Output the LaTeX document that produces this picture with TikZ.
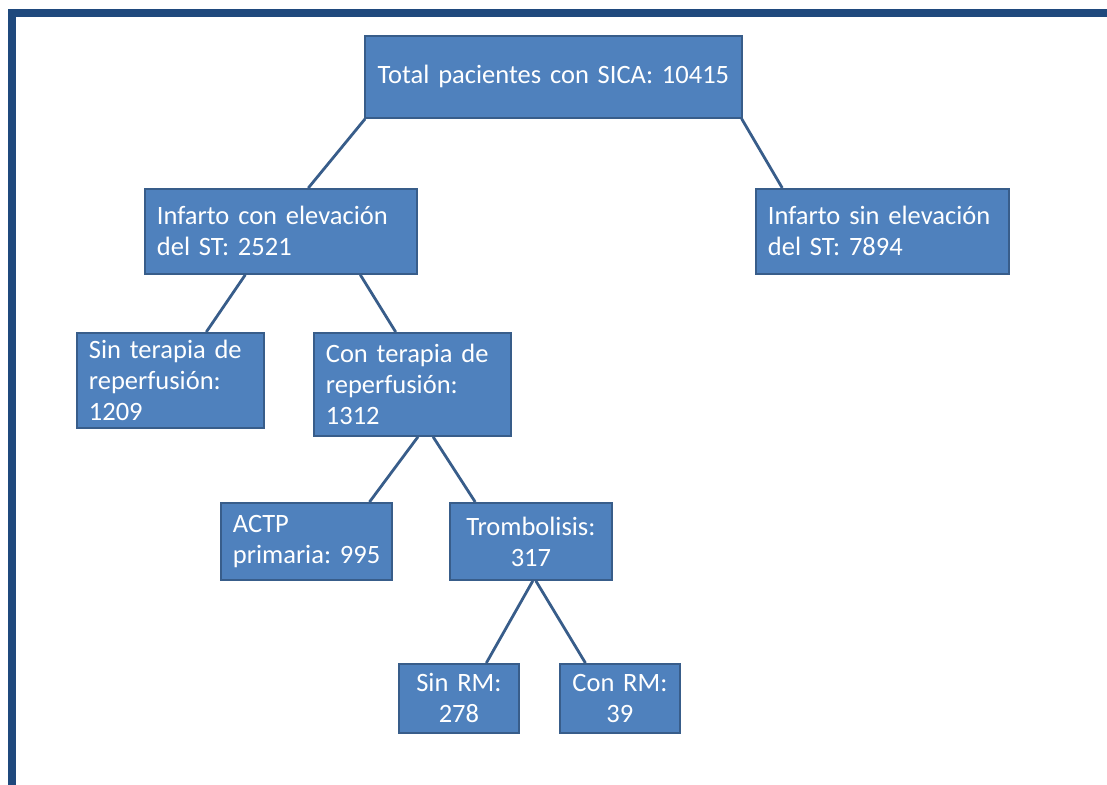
\documentclass[tikz,border=0pt]{standalone}
\usepackage{fontspec}
\setmainfont{Carlito}[WordSpace=0.7]
\usetikzlibrary{calc}
\definecolor{boxfill}{RGB}{79,129,189}
\definecolor{boxline}{RGB}{56,93,138}
\definecolor{framecol}{RGB}{31,73,125}
\tikzset{
  box/.style={draw=boxline, fill=boxfill, line width=1.8pt, text=white,
    anchor=north west, inner xsep=12pt, inner ysep=0pt,
    font=\fontsize{26.5}{31}\selectfont},
  link/.style={draw=boxline, line width=2.8pt},
  frame/.style={draw=framecol, line width=8pt}
}

\begin{document}
\begin{tikzpicture}[x=1pt,y=-1pt]
        \newcommand{\linkbox}[4]{\draw[link] ($(#1.south west)!#2!(#1.south east)$) -- ($(#3.north west)!#4!(#3.north east)$);}
        \useasboundingbox (0,0) rectangle (1107,784);
        \draw[frame] (12,800) -- (12,13.5) -- (1120,13.5);
        % the boxes
        \node[box, align=center, text width=353pt, minimum width=377pt, minimum height=82pt] (total) at (364,35) {Total pacientes con SICA: 10415};
        \node[box, align=left, text width=248pt, minimum width=272pt, minimum height=85pt] (stemi) at (144,188) {Infarto con elevación\\del ST: 2521};
        \node[box, align=left, text width=229pt, minimum width=253pt, minimum height=85pt] (nstemi) at (755,188) {Infarto sin elevación\\del ST: 7894};
        \node[box, align=left, text width=163pt, minimum width=187pt, minimum height=95pt] (sinrep) at (76,332) {Sin terapia de\\reperfusión:\\1209};
        \node[box, align=left, text width=173pt, minimum width=197pt, minimum height=103pt] (conrep) at (313,332) {Con terapia de\\reperfusión:\\1312};
        \node[box, align=left, text width=147pt, minimum width=171pt, minimum height=77pt] (actp) at (220,502) {ACTP\\primaria:~995};
        \node[box, align=center, text width=138pt, minimum width=162pt, minimum height=77pt] (tromb) at (449,502) {Trombolisis:\\317};
        \node[box, align=center, text width=96pt, minimum width=120pt, minimum height=69pt] (sinrm) at (398,663) {Sin RM:\\278};
        \node[box, align=center, text width=96pt, minimum width=120pt, minimum height=69pt] (conrm) at (559,663) {Con RM:\\39};
        % the links
        \linkbox{total}{0.003}{stemi}{0.60}
        \linkbox{total}{0.997}{nstemi}{0.107}
        \linkbox{stemi}{0.37}{sinrep}{0.69}
        \linkbox{stemi}{0.79}{conrep}{0.416}
        \linkbox{conrep}{0.528}{actp}{0.865}
        \linkbox{conrep}{0.604}{tromb}{0.16}
        \linkbox{tromb}{0.512}{sinrm}{0.725}
        \linkbox{tromb}{0.53}{conrm}{0.217}
\end{tikzpicture}
\end{document}
